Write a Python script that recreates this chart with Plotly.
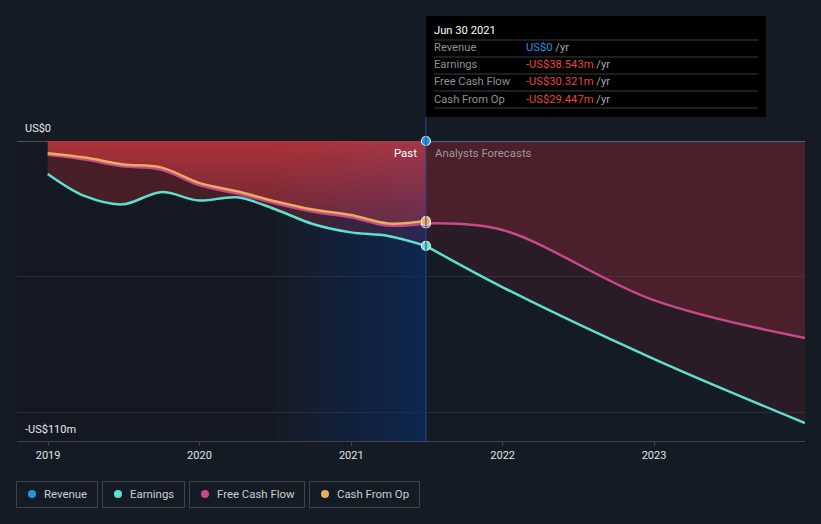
import plotly.graph_objects as go
import pandas as pd

# ---------------- data ----------------
past_dates = ["2018-12-31", "2019-03-31", "2019-06-30", "2019-09-30", "2019-12-31",
              "2020-03-31", "2020-06-30", "2020-09-30", "2020-12-31", "2021-03-31",
              "2021-06-30"]
earnings_past = [-12.1, -20.3, -23.3, -18.8, -21.9, -20.7, -25.0, -30.5, -33.6, -34.9, -38.543]
fcf_past = [-5.1, -6.8, -9.3, -10.5, -16.2, -19.3, -22.9, -26.0, -28.0, -31.1, -30.321]
cfo_past = [-4.5, -6.1, -8.6, -9.7, -15.4, -18.5, -22.1, -25.2, -27.2, -30.3, -29.447]

fc_dates = ["2021-06-30", "2021-12-31", "2022-12-31", "2023-12-31"]
earnings_fc = [-38.543, -53.7, -80.1, -103.7]
fcf_fc = [-30.321, -32.7, -58.5, -72.4]

revenue_dates = ["2021-06-30", "2023-12-31"]
revenue_vals = [0, 0]

year_ticks = ["2019-01-01", "2020-01-01", "2021-01-01", "2022-01-01", "2023-01-01"]
year_labels = ["2019", "2020", "2021", "2022", "2023"]
grid_vals = [0, -50, -100]
y_label_vals = [0, -110]
y_label_text = ["US$0", "-US$110m"]

tooltip_title = "Jun 30 2021"
tooltip_rows = ["Revenue", "Earnings", "Free Cash Flow", "Cash From Op"]
tooltip_vals = ["US$0", "-US$38.543m", "-US$30.321m", "-US$29.447m"]

legend_names = ["Revenue", "Earnings", "Free Cash Flow", "Cash From Op"]

# ---------------- style ----------------
BG = "#151b25"
BLUE = "#2394df"
TEAL = "#5ee0cf"
PINK = "#c8488c"
ORANGE = "#e9ad5c"
FONT = "Roboto"
series_colors = [BLUE, TEAL, PINK, ORANGE]
Y_MIN, Y_MAX = -110.3, 0
X_RANGE = ["2018-10-18", "2023-12-31"]
HL_START = "2020-06-30"   # start of the highlighted last-twelve-months band


def px_x(p):
    return (p - 17) / 788


def px_y(p):
    return (441 - p) / 300


def ms(d):
    return pd.Timestamp(d).value // 10**6


fig = go.Figure()

# highlighted band (background, horizontal gradient)
band_x = [HL_START, past_dates[-1], past_dates[-1], HL_START, HL_START]
band_y = [Y_MIN, Y_MIN, Y_MAX, Y_MAX, Y_MIN]
fig.add_trace(go.Scatter(
    x=band_x, y=band_y, mode="none", fill="toself",
    fillgradient=dict(type="horizontal", start=ms(HL_START), stop=ms(past_dates[-1]),
                      colorscale=[[0, "rgba(0,38,90,0.0)"], [1, "rgba(0,38,90,0.60)"]]),
    hoverinfo="skip", showlegend=False))

# past fills
fig.add_trace(go.Scatter(x=past_dates, y=[0] * len(past_dates), mode="lines",
                         line=dict(width=0, shape="spline"), hoverinfo="skip", showlegend=False))
fig.add_trace(go.Scatter(
    x=past_dates, y=cfo_past, mode="lines", line=dict(width=0, shape="spline"),
    fill="tonexty",
    fillgradient=dict(type="vertical", start=-34, stop=0,
                      colorscale=[[0, "rgba(180,50,70,0.50)"], [1, "rgba(196,54,58,0.86)"]]),
    hoverinfo="skip", showlegend=False))
fig.add_trace(go.Scatter(
    x=past_dates, y=earnings_past, mode="lines", line=dict(width=0, shape="spline"),
    fill="tonexty",
    fillgradient=dict(type="horizontal", start=ms(HL_START), stop=ms(past_dates[-1]),
                      colorscale=[[0, "rgba(150,40,45,0.40)"], [1, "rgba(150,40,90,0.20)"]]),
    hoverinfo="skip", showlegend=False))

# forecast fills
fig.add_trace(go.Scatter(x=fc_dates, y=[0] * len(fc_dates), mode="lines",
                         line=dict(width=0, shape="spline"), hoverinfo="skip", showlegend=False))
fig.add_trace(go.Scatter(x=fc_dates, y=fcf_fc, mode="lines", line=dict(width=0, shape="spline"),
                         fill="tonexty", fillcolor="rgba(150,40,50,0.42)",
                         hoverinfo="skip", showlegend=False))
fig.add_trace(go.Scatter(x=fc_dates, y=earnings_fc, mode="lines", line=dict(width=0, shape="spline"),
                         fill="tonexty", fillcolor="rgba(150,40,45,0.16)",
                         hoverinfo="skip", showlegend=False))

# light blue tint of the highlighted band over the fills
fig.add_trace(go.Scatter(
    x=band_x, y=band_y, mode="none", fill="toself",
    fillgradient=dict(type="horizontal", start=ms(HL_START), stop=ms(past_dates[-1]),
                      colorscale=[[0, "rgba(90,100,210,0.0)"], [1, "rgba(90,100,210,0.07)"]]),
    hoverinfo="skip", showlegend=False))

# lines
fig.add_trace(go.Scatter(x=revenue_dates, y=revenue_vals, mode="lines",
                         line=dict(color="rgba(70,110,170,0.9)", width=1.5),
                         cliponaxis=False, hoverinfo="skip", showlegend=False))
fig.add_trace(go.Scatter(x=past_dates, y=fcf_past, mode="lines",
                         line=dict(color=PINK, width=2.5, shape="spline"), showlegend=False))
fig.add_trace(go.Scatter(x=fc_dates, y=fcf_fc, mode="lines",
                         line=dict(color=PINK, width=2.5, shape="spline"), showlegend=False))
fig.add_trace(go.Scatter(x=past_dates, y=cfo_past, mode="lines",
                         line=dict(color=ORANGE, width=2.5, shape="spline"), showlegend=False))
fig.add_trace(go.Scatter(x=past_dates, y=earnings_past, mode="lines",
                         line=dict(color=TEAL, width=2.5, shape="spline"), showlegend=False))
fig.add_trace(go.Scatter(x=fc_dates, y=earnings_fc, mode="lines",
                         line=dict(color=TEAL, width=2.5, shape="spline"), showlegend=False))

# end-of-past markers
for xs, ys, col in [([past_dates[-1]], [fcf_past[-1]], PINK),
                    ([past_dates[-1]], [cfo_past[-1]], ORANGE),
                    ([past_dates[-1]], [earnings_past[-1]], TEAL),
                    ([revenue_dates[0]], [revenue_vals[0]], BLUE)]:
    fig.add_trace(go.Scatter(x=xs, y=ys, mode="markers", cliponaxis=False,
                             marker=dict(color=col, size=9, line=dict(color="#e8eaee", width=1.2)),
                             showlegend=False))

shapes = []
# slightly darker older past region
shapes.append(dict(type="rect", xref="x", yref="y", x0=X_RANGE[0], x1=HL_START, y0=Y_MIN, y1=Y_MAX,
                   fillcolor="rgba(0,0,0,0.08)", line=dict(width=0), layer="below"))
# vertical "now" line
shapes.append(dict(type="line", xref="x", yref="paper", x0=past_dates[-1], x1=past_dates[-1],
                   y0=0, y1=px_y(117), line=dict(color="#1f4c8f", width=1), layer="above"))
# tooltip box
shapes.append(dict(type="rect", xref="paper", yref="paper", x0=px_x(426), x1=px_x(766),
                   y0=px_y(117), y1=px_y(16), fillcolor="#000000", line=dict(width=0), layer="above"))
for yy in [40, 57, 74, 91, 108]:
    shapes.append(dict(type="line", xref="paper", yref="paper", x0=px_x(434), x1=px_x(758),
                       y0=px_y(yy), y1=px_y(yy), line=dict(color="#3a3c40", width=1), layer="above"))

annotations = []
annotations.append(dict(xref="paper", yref="paper", x=px_x(432), y=px_y(31), xanchor="left",
                        yanchor="middle", showarrow=False, text=tooltip_title,
                        font=dict(family=FONT, size=11.2, color="#ffffff")))
row_y = [48, 65, 82, 99]
for i, (lab, val) in enumerate(zip(tooltip_rows, tooltip_vals)):
    vcol = BLUE if i == 0 else "#e8453c"
    annotations.append(dict(xref="paper", yref="paper", x=px_x(432), y=px_y(row_y[i]),
                            xanchor="left", yanchor="middle", showarrow=False, text=lab,
                            font=dict(family=FONT, size=11.2, color="#8e9196")))
    annotations.append(dict(xref="paper", yref="paper", x=px_x(524), y=px_y(row_y[i]),
                            xanchor="left", yanchor="middle", showarrow=False,
                            text="<span style='color:%s'>%s</span> <span style='color:#a8abb0'>/yr</span>" % (vcol, val),
                            font=dict(family=FONT, size=11.2)))

# past / forecast labels
annotations.append(dict(xref="x", yref="paper", x=past_dates[-1], y=px_y(153), xanchor="right",
                        yanchor="middle", xshift=-7, showarrow=False, text="Past",
                        font=dict(family=FONT, size=11.4, color="#ffffff")))
annotations.append(dict(xref="x", yref="paper", x=past_dates[-1], y=px_y(153), xanchor="left",
                        yanchor="middle", xshift=7, showarrow=False, text="Analysts Forecasts",
                        font=dict(family=FONT, size=11.4, color="#9a979c")))

# y labels
for v, t, sh in zip(y_label_vals, y_label_text, [13, 11]):
    annotations.append(dict(xref="paper", yref="y", x=px_x(23), y=v, yshift=sh, xanchor="left",
                            yanchor="middle", showarrow=False, text=t,
                            font=dict(family=FONT, size=11, color="#e6e8eb")))

# legend (drawn)
boxes = [(16.5, 97.5), (102.5, 184.5), (189.5, 304.5), (309.5, 419.5)]
for (bx0, bx1), name, col in zip(boxes, legend_names, series_colors):
    shapes.append(dict(type="rect", xref="paper", yref="paper", x0=px_x(bx0), x1=px_x(bx1),
                       y0=px_y(507.5), y1=px_y(481.5), fillcolor="rgba(0,0,0,0)",
                       line=dict(color="#3e434c", width=1)))
    cx = bx0 + 15.5
    shapes.append(dict(type="circle", xref="paper", yref="paper", x0=px_x(cx - 4), x1=px_x(cx + 4),
                       y0=px_y(498), y1=px_y(490), fillcolor=col, line=dict(width=0)))
    annotations.append(dict(xref="paper", yref="paper", x=px_x(bx0 + 25.5), y=px_y(494),
                            xanchor="left", yanchor="middle", showarrow=False, text=name,
                            font=dict(family=FONT, size=11.4, color="#c9ccd1")))

fig.update_layout(
    width=821, height=524,
    margin=dict(l=17, r=16, t=141, b=83),
    paper_bgcolor=BG, plot_bgcolor=BG,
    font=dict(family=FONT, color="#d0d4da"),
    showlegend=False,
    shapes=shapes,
    annotations=annotations,
    hovermode=False,
)
fig.update_xaxes(type="date", range=X_RANGE, tickvals=year_ticks, ticktext=year_labels,
                 showgrid=False, showline=True, linecolor="#3c414b", linewidth=1,
                 ticks="outside", ticklen=4, tickcolor="#3c414b",
                 tickfont=dict(family=FONT, size=11, color="#e0e3e7"), zeroline=False)
fig.update_yaxes(range=[Y_MIN, Y_MAX], tickvals=grid_vals, showticklabels=False,
                 showgrid=True, gridcolor="#2a2f38", gridwidth=1,
                 zeroline=True, zerolinecolor="#4a4f59", zerolinewidth=1)

fig.write_html("out.html", config={"displayModeBar": False},
               post_script="document.body.style.margin='0';document.body.style.background='%s';" % BG)
